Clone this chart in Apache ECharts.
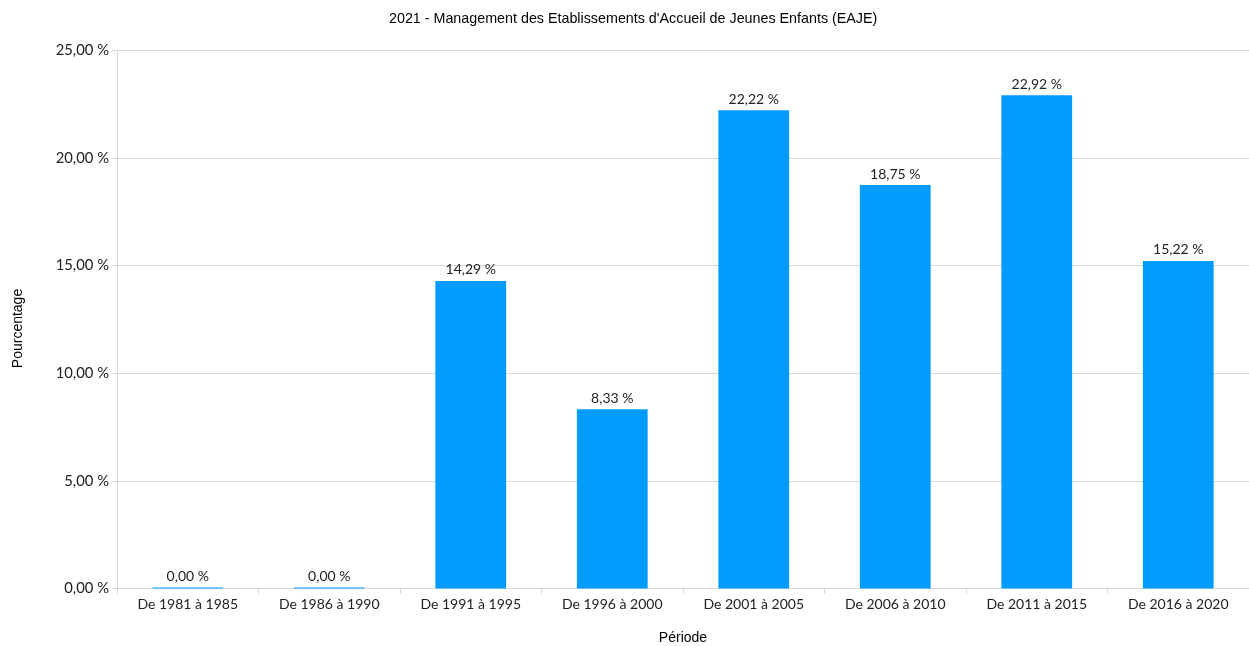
<!DOCTYPE html>
<html><head><meta charset="utf-8">
<script src="https://cdn.jsdelivr.net/npm/echarts@6/dist/echarts.min.js"></script>
<style>html,body{margin:0;padding:0;background:#fff}#c{width:1249px;height:646px}</style>
</head><body><div id="c"></div>
<script>
const title = "2021 - Management des Etablissements d'Accueil de Jeunes Enfants (EAJE)";
const categories = ["De 1981 à 1985","De 1986 à 1990","De 1991 à 1995","De 1996 à 2000","De 2001 à 2005","De 2006 à 2010","De 2011 à 2015","De 2016 à 2020"];
const values = [0.00, 0.00, 14.29, 8.33, 22.22, 18.75, 22.92, 15.22];
const yName = "Pourcentage";
const xName = "Période";
const fmt = v => v.toFixed(2).replace('.', ',') + ' %';
const chart = echarts.init(document.getElementById('c'));
chart.setOption({
  animation: false,
  title: {text: title, left: 384, top: 7, textStyle: {fontFamily: 'Liberation Sans', fontSize: 14.3, fontWeight: 'normal', color: '#000'}},
  grid: {left: 117, right: 0, top: 50.5, bottom: 57.5, outerBoundsMode: 'none', containLabel: false},
  xAxis: {
    type: 'category', data: categories, name: xName, nameLocation: 'middle', nameGap: 43,
    nameTextStyle: {fontFamily: 'Liberation Sans', fontSize: 14, color: '#000'},
    axisLine: {lineStyle: {color: '#d9d9d9'}},
    axisTick: {show: true, alignWithLabel: false, length: 5, lineStyle: {color: '#d9d9d9'}},
    axisLabel: {fontFamily: 'Lato', fontSize: 14, color: '#222', margin: 9}
  },
  yAxis: {
    type: 'value', min: 0, max: 25, interval: 5, name: yName, nameLocation: 'middle', nameGap: 92,
    nameTextStyle: {fontFamily: 'Liberation Sans', fontSize: 14, color: '#000', padding: [0, 18, 0, 0]},
    axisLine: {show: true, lineStyle: {color: '#d9d9d9'}},
    axisTick: {show: true, length: 5, lineStyle: {color: '#d9d9d9'}},
    splitLine: {lineStyle: {color: '#d9d9d9'}},
    axisLabel: {fontFamily: 'Lato', fontSize: 14.8, color: '#222', margin: 8, formatter: v => fmt(v)}
  },
  series: [{
    type: 'bar', data: values, barWidth: '50%', barMinHeight: 1,
    itemStyle: {color: '#009bff'},
    label: {show: true, position: 'top', distance: 4, fontFamily: 'Lato', fontSize: 14, color: '#222', formatter: p => fmt(p.value)}
  }]
});
</script></body></html>
